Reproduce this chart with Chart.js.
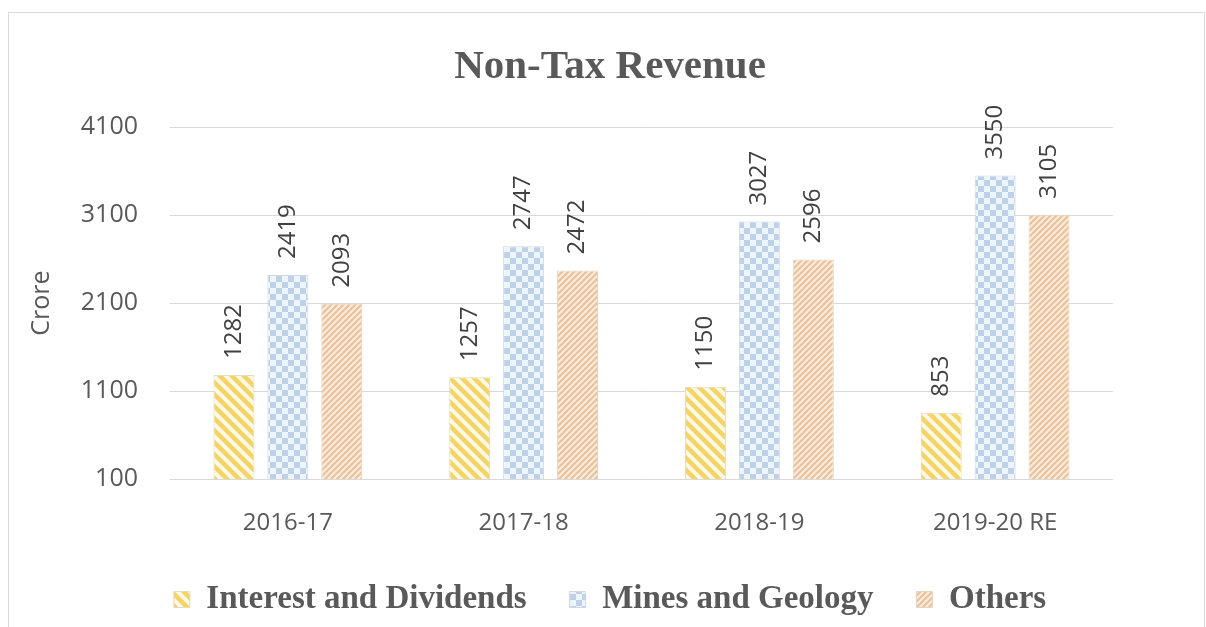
<!DOCTYPE html>
<html>
<head>
<meta charset="utf-8">
<script src="https://cdn.jsdelivr.net/npm/chart.js@4"></script>
<style>
  html, body { margin: 0; padding: 0; background: #ffffff; }
  #frame { position: absolute; left: 8px; top: 12px; width: 1197px; height: 630px;
           border: 1px solid #d9d9d9; box-sizing: border-box; }
  #wrap { position: absolute; left: 0; top: 0; width: 1206px; height: 627px; }
</style>
</head>
<body>
<div id="frame"></div>
<div id="wrap"><canvas id="c" width="1206" height="627"></canvas></div>
<script>
// Non-tax revenue by year (Rs crore)
const years = ['2016-17', '2017-18', '2018-19', '2019-20 RE'];
const interestDividends = [1282, 1257, 1150, 853];
const minesGeology = [2419, 2747, 3027, 3550];
const others = [2093, 2472, 2596, 3105];
const yTicks = [100, 1100, 2100, 3100, 4100];

// Tileable fill patterns for the bars
function tile(size, paint) {
  const c = document.createElement('canvas');
  c.width = c.height = size;
  const g = c.getContext('2d');
  paint(g, size);
  return g.createPattern(c, 'repeat');
}
function diagonal(bg, fg, size, lw, down) {
  return tile(size, (g, s) => {
    g.fillStyle = bg; g.fillRect(0, 0, s, s);
    g.strokeStyle = fg; g.lineWidth = lw; g.lineCap = 'square';
    g.beginPath();
    for (let k = -1; k <= 1; k++) {
      if (down) { g.moveTo(k * s, 0); g.lineTo(k * s + s, s); }
      else { g.moveTo(k * s, s); g.lineTo(k * s + s, 0); }
    }
    g.stroke();
  });
}
function checker(a, b, cell) {
  return tile(cell * 2, (g, s) => {
    g.fillStyle = a; g.fillRect(0, 0, s, s);
    g.fillStyle = b; g.fillRect(0, 0, cell, cell); g.fillRect(cell, cell, cell, cell);
  });
}

const yellowFill = diagonal('#fef9e6', '#f4d466', 12, 4.5, true);
const blueFill = checker('#eef6fd', '#bfd1e9', 6);
const orangeFill = diagonal('#fcefe2', '#eac49e', 6, 2.4, false);

// Vertical value labels above each bar
const valueLabels = {
  id: 'valueLabels',
  afterDatasetsDraw(chart) {
    const ctx = chart.ctx;
    ctx.save();
    ctx.font = '24px "Open Sans"';
    ctx.fillStyle = '#404040';
    ctx.textAlign = 'left';
    ctx.textBaseline = 'middle';
    chart.data.datasets.forEach((ds, i) => {
      chart.getDatasetMeta(i).data.forEach((bar, j) => {
        ctx.save();
        ctx.translate(bar.x, bar.y - 16);
        ctx.rotate(-Math.PI / 2);
        ctx.fillText(String(ds.data[j]), 0, 0);
        ctx.restore();
      });
    });
    ctx.restore();
  }
};

new Chart(document.getElementById('c'), {
  type: 'bar',
  data: {
    labels: years,
    datasets: [
      { label: 'Interest and Dividends', data: interestDividends,
        backgroundColor: yellowFill, borderColor: '#e3dcc0', borderWidth: 1 },
      { label: 'Mines and Geology', data: minesGeology,
        backgroundColor: blueFill, borderColor: '#cfd8e3', borderWidth: 1 },
      { label: 'Others', data: others,
        backgroundColor: orangeFill, borderColor: '#e6d3c2', borderWidth: 1 }
    ]
  },
  options: {
    responsive: false,
    animation: false,
    layout: { padding: { top: 23, left: 16, right: 2, bottom: 1 } },
    datasets: { bar: { categoryPercentage: 0.686, barPercentage: 0.76 } },
    plugins: {
      title: {
        display: true,
        text: 'Non-Tax Revenue',
        color: '#595959',
        font: { family: '"Liberation Serif"', size: 41, weight: 'bold' },
        padding: { top: 20, bottom: 35 }
      },
      legend: {
        position: 'bottom',
        labels: {
          color: '#595959',
          font: { family: '"Liberation Serif"', size: 33, weight: 'bold' },
          boxWidth: 16,
          boxHeight: 16,
          padding: 43
        }
      },
      tooltip: { enabled: false }
    },
    scales: {
      x: {
        grid: { display: false },
        border: { display: false },
        afterFit(scale) { scale.height = 61; },
        ticks: { color: '#595959', font: { family: '"Open Sans"', size: 24 }, padding: 22 }
      },
      y: {
        min: yTicks[0],
        max: yTicks[yTicks.length - 1],
        afterBuildTicks(scale) { scale.ticks = yTicks.map(v => ({ value: v })); },
        afterFit(scale) { scale.width = 154; },
        grid: { color: '#d9d9d9', drawTicks: false },
        border: { display: false },
        ticks: {
          color: '#595959',
          font: { family: '"Open Sans"', size: 25 },
          padding: 32,
          callback: (v) => String(v)
        },
        title: {
          display: true,
          text: 'Crore',
          color: '#595959',
          font: { family: '"Open Sans"', size: 25 },
          padding: { top: 11, bottom: 0 }
        }
      },
      // empty right-hand margin so the plot ends where the gridlines stop
      gap: {
        position: 'right',
        grid: { display: false },
        border: { display: false },
        ticks: { display: false },
        afterFit(scale) { scale.width = 91; }
      }
    }
  },
  plugins: [valueLabels]
});
</script>
</body>
</html>
